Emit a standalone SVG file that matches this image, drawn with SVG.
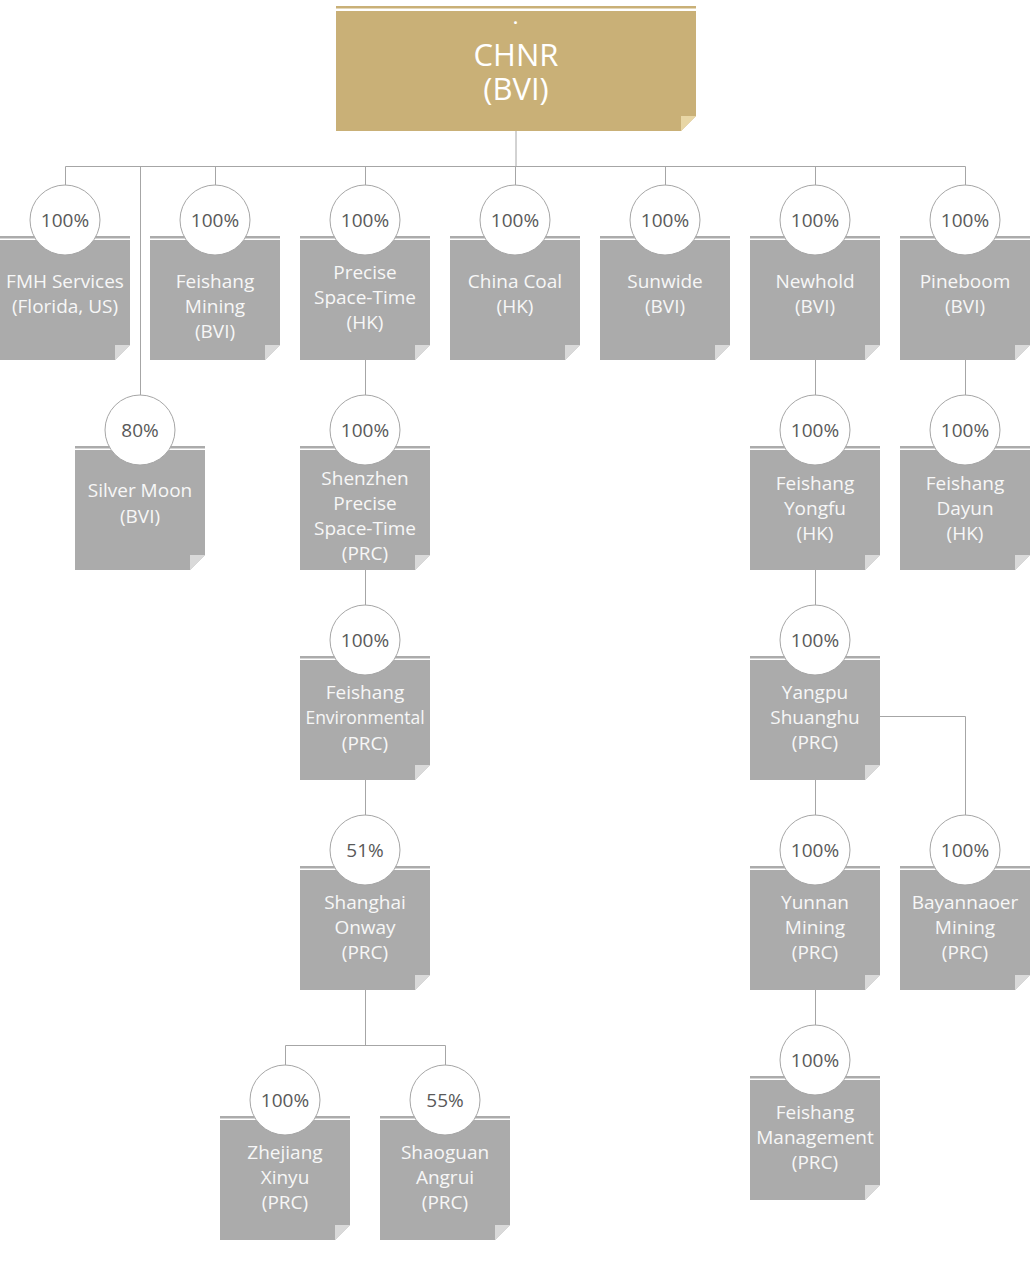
<svg xmlns="http://www.w3.org/2000/svg" xmlns:xlink="http://www.w3.org/1999/xlink" width="1030" height="1266" viewBox="0 0 1030 1266">
<style>
.bg{fill:#ffffff}
.line{stroke:#a6a6a6;stroke-width:1;fill:none}
.box{fill:#ababab}
.fold{fill:#d9d9d9}
.circ{fill:#ffffff;stroke:#a6a6a6;stroke-width:1}
.pct{font-family:"Open Sans","Noto Sans",sans-serif;font-size:19px;fill:#595959;text-anchor:middle}
.lbl{font-family:"Open Sans","Noto Sans",sans-serif;font-size:19px;fill:#f7f7f7;text-anchor:middle}
.top{font-family:"Open Sans","Noto Sans",sans-serif;font-size:31px;fill:#ffffff;text-anchor:middle}
</style>
<defs>
<g id="card">
<rect class="box" x="0" y="0" width="130" height="2.5"/>
<path class="box" d="M0,4 H130 V109 L115,124 H0 Z"/>
<path class="fold" d="M115,109 H130 L115,124 Z"/>
</g>
</defs>
<rect class="bg" x="0" y="0" width="1030" height="1266"/>
<g id="connectors">
<path class="line" d="M516,131 V166.5"/>
<path class="line" d="M65.5,166.5 H965.5"/>
<path class="line" d="M65.5,166.5 V185 M215.5,166.5 V185 M365.5,166.5 V185 M515.5,166.5 V185 M665.5,166.5 V185 M815.5,166.5 V185 M965.5,166.5 V185"/>
<path class="line" d="M140.5,166.5 V395"/>
<path class="line" d="M365.5,360 V395 M815.5,360 V395 M965.5,360 V395"/>
<path class="line" d="M365.5,570 V605 M815.5,570 V605"/>
<path class="line" d="M365.5,780 V815 M815.5,780 V815"/>
<path class="line" d="M880,716.5 H965.5 V815"/>
<path class="line" d="M365.5,990 V1045.5"/>
<path class="line" d="M285.5,1065 V1045.5 H445.5 V1065"/>
<path class="line" d="M815.5,990 V1025"/>
</g>
<g id="chnr">
<rect x="336" y="6" width="360" height="2.5" fill="#c9b077"/>
<path d="M336,11 H696 V116 L681,131 H336 Z" fill="#c9b077"/>
<path d="M681,116 H696 L681,131 Z" fill="#e8d6a5"/>
<text x="515.5" y="24" font-family="Open Sans, sans-serif" font-size="16" font-weight="bold" fill="#ffffff" text-anchor="middle">.</text>
<text class="top" x="516" y="66">CHNR<tspan x="516" dy="34">(BVI)</tspan></text>
</g>
<g id="fmh">
<use xlink:href="#card" x="0" y="236"/>
<text class="lbl" x="65" y="288">FMH Services</text>
<text class="lbl" x="65" y="313">(Florida, US)</text>
<circle class="circ" cx="65" cy="220" r="35"/>
<text class="pct" x="65" y="227">100%</text>
</g>
<g id="feishang-mining">
<use xlink:href="#card" x="150" y="236"/>
<text class="lbl" x="215" y="288">Feishang</text>
<text class="lbl" x="215" y="313">Mining</text>
<text class="lbl" x="215" y="338">(BVI)</text>
<circle class="circ" cx="215" cy="220" r="35"/>
<text class="pct" x="215" y="227">100%</text>
</g>
<g id="precise">
<use xlink:href="#card" x="300" y="236"/>
<text class="lbl" x="365" y="279">Precise</text>
<text class="lbl" x="365" y="304">Space-Time</text>
<text class="lbl" x="365" y="329">(HK)</text>
<circle class="circ" cx="365" cy="220" r="35"/>
<text class="pct" x="365" y="227">100%</text>
</g>
<g id="china-coal">
<use xlink:href="#card" x="450" y="236"/>
<text class="lbl" x="515" y="288">China Coal</text>
<text class="lbl" x="515" y="313">(HK)</text>
<circle class="circ" cx="515" cy="220" r="35"/>
<text class="pct" x="515" y="227">100%</text>
</g>
<g id="sunwide">
<use xlink:href="#card" x="600" y="236"/>
<text class="lbl" x="665" y="288">Sunwide</text>
<text class="lbl" x="665" y="313">(BVI)</text>
<circle class="circ" cx="665" cy="220" r="35"/>
<text class="pct" x="665" y="227">100%</text>
</g>
<g id="newhold">
<use xlink:href="#card" x="750" y="236"/>
<text class="lbl" x="815" y="288">Newhold</text>
<text class="lbl" x="815" y="313">(BVI)</text>
<circle class="circ" cx="815" cy="220" r="35"/>
<text class="pct" x="815" y="227">100%</text>
</g>
<g id="pineboom">
<use xlink:href="#card" x="900" y="236"/>
<text class="lbl" x="965" y="288">Pineboom</text>
<text class="lbl" x="965" y="313">(BVI)</text>
<circle class="circ" cx="965" cy="220" r="35"/>
<text class="pct" x="965" y="227">100%</text>
</g>
<g id="silver-moon">
<use xlink:href="#card" x="75" y="446"/>
<text class="lbl" x="140" y="497">Silver Moon</text>
<text class="lbl" x="140" y="523">(BVI)</text>
<circle class="circ" cx="140" cy="430" r="35"/>
<text class="pct" x="140" y="437">80%</text>
</g>
<g id="shenzhen">
<use xlink:href="#card" x="300" y="446"/>
<text class="lbl" x="365" y="485">Shenzhen</text>
<text class="lbl" x="365" y="510">Precise</text>
<text class="lbl" x="365" y="535">Space-Time</text>
<text class="lbl" x="365" y="560">(PRC)</text>
<circle class="circ" cx="365" cy="430" r="35"/>
<text class="pct" x="365" y="437">100%</text>
</g>
<g id="yongfu">
<use xlink:href="#card" x="750" y="446"/>
<text class="lbl" x="815" y="490">Feishang</text>
<text class="lbl" x="815" y="515">Yongfu</text>
<text class="lbl" x="815" y="540">(HK)</text>
<circle class="circ" cx="815" cy="430" r="35"/>
<text class="pct" x="815" y="437">100%</text>
</g>
<g id="dayun">
<use xlink:href="#card" x="900" y="446"/>
<text class="lbl" x="965" y="490">Feishang</text>
<text class="lbl" x="965" y="515">Dayun</text>
<text class="lbl" x="965" y="540">(HK)</text>
<circle class="circ" cx="965" cy="430" r="35"/>
<text class="pct" x="965" y="437">100%</text>
</g>
<g id="environmental">
<use xlink:href="#card" x="300" y="656"/>
<text class="lbl" x="365" y="699">Feishang</text>
<text class="lbl" x="365" y="724" style="font-size:17.5px">Environmental</text>
<text class="lbl" x="365" y="750">(PRC)</text>
<circle class="circ" cx="365" cy="640" r="35"/>
<text class="pct" x="365" y="647">100%</text>
</g>
<g id="yangpu">
<use xlink:href="#card" x="750" y="656"/>
<text class="lbl" x="815" y="699">Yangpu</text>
<text class="lbl" x="815" y="724">Shuanghu</text>
<text class="lbl" x="815" y="749">(PRC)</text>
<circle class="circ" cx="815" cy="640" r="35"/>
<text class="pct" x="815" y="647">100%</text>
</g>
<g id="onway">
<use xlink:href="#card" x="300" y="866"/>
<text class="lbl" x="365" y="909">Shanghai</text>
<text class="lbl" x="365" y="934">Onway</text>
<text class="lbl" x="365" y="959">(PRC)</text>
<circle class="circ" cx="365" cy="850" r="35"/>
<text class="pct" x="365" y="857">51%</text>
</g>
<g id="yunnan">
<use xlink:href="#card" x="750" y="866"/>
<text class="lbl" x="815" y="909">Yunnan</text>
<text class="lbl" x="815" y="934">Mining</text>
<text class="lbl" x="815" y="959">(PRC)</text>
<circle class="circ" cx="815" cy="850" r="35"/>
<text class="pct" x="815" y="857">100%</text>
</g>
<g id="bayannaoer">
<use xlink:href="#card" x="900" y="866"/>
<text class="lbl" x="965" y="909">Bayannaoer</text>
<text class="lbl" x="965" y="934">Mining</text>
<text class="lbl" x="965" y="959">(PRC)</text>
<circle class="circ" cx="965" cy="850" r="35"/>
<text class="pct" x="965" y="857">100%</text>
</g>
<g id="management">
<use xlink:href="#card" x="750" y="1076"/>
<text class="lbl" x="815" y="1119">Feishang</text>
<text class="lbl" x="815" y="1144">Management</text>
<text class="lbl" x="815" y="1169">(PRC)</text>
<circle class="circ" cx="815" cy="1060" r="35"/>
<text class="pct" x="815" y="1067">100%</text>
</g>
<g id="zhejiang">
<use xlink:href="#card" x="220" y="1116"/>
<text class="lbl" x="285" y="1159">Zhejiang</text>
<text class="lbl" x="285" y="1184">Xinyu</text>
<text class="lbl" x="285" y="1209">(PRC)</text>
<circle class="circ" cx="285" cy="1100" r="35"/>
<text class="pct" x="285" y="1107">100%</text>
</g>
<g id="shaoguan">
<use xlink:href="#card" x="380" y="1116"/>
<text class="lbl" x="445" y="1159">Shaoguan</text>
<text class="lbl" x="445" y="1184">Angrui</text>
<text class="lbl" x="445" y="1209">(PRC)</text>
<circle class="circ" cx="445" cy="1100" r="35"/>
<text class="pct" x="445" y="1107">55%</text>
</g>
</svg>
